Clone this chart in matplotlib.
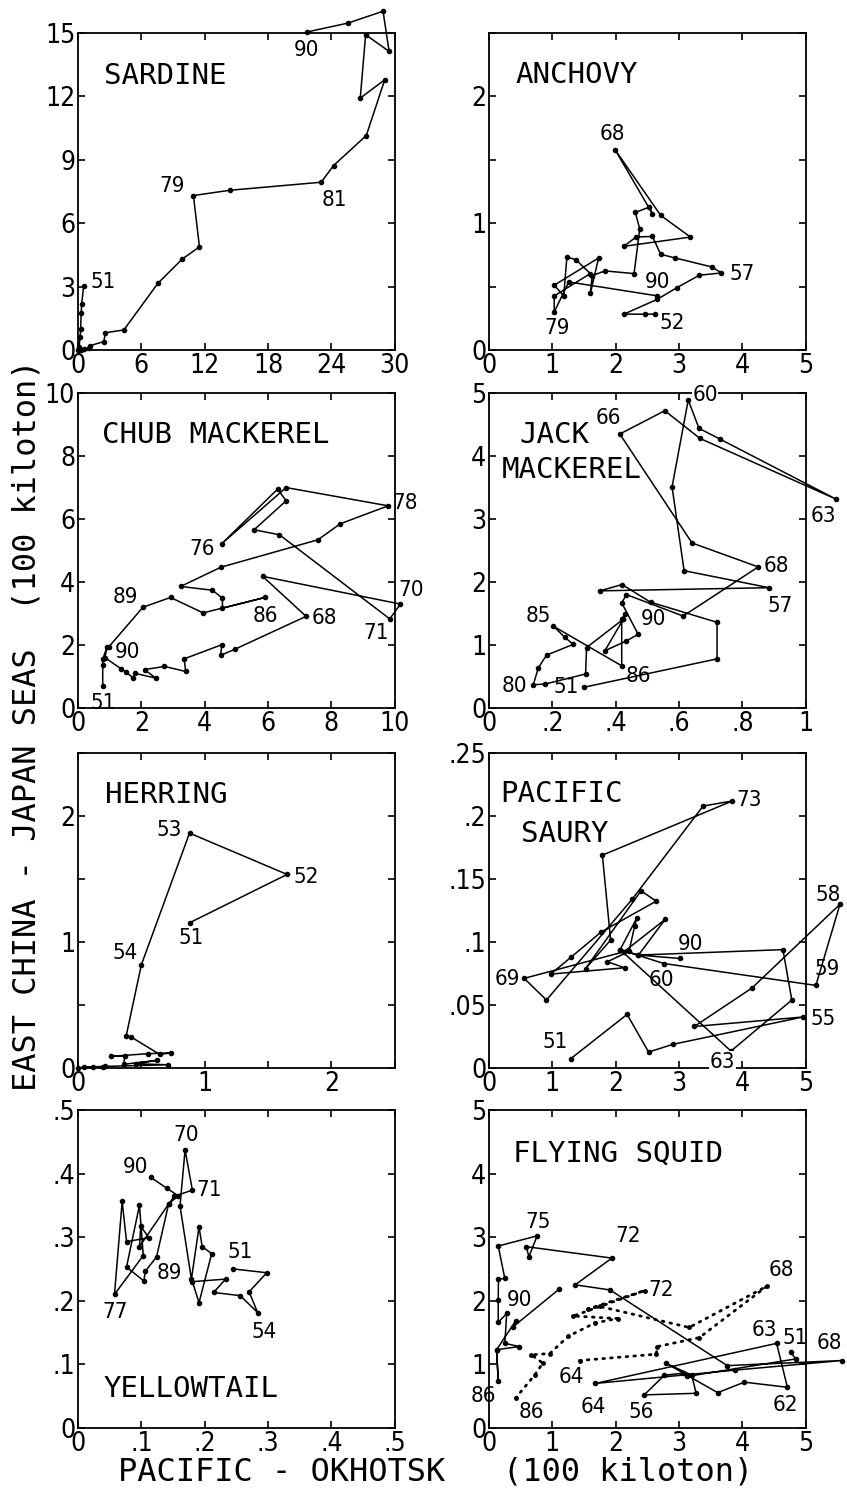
import matplotlib
matplotlib.use("Agg")
import matplotlib.pyplot as plt

plt.rcParams["font.family"] = ["DejaVu Sans"]
plt.rcParams["font.stretch"] = "condensed"
MONO = "DejaVu Sans Mono"

# ---------------- data ----------------
# SARDINE
sardine_x = [0.54, 0.35, 0.30, 0.25, 0.20, 0.10, 0.0, 0.3, 0.6, 1.0, 1.1, 2.44, 2.6, 4.34,
             7.57, 9.88, 11.5, 10.93, 14.38, 23.03, 24.2, 27.3, 29.05, 26.73, 27.24, 29.46,
             28.89, 25.56, 21.7]
sardine_y = [3.05, 2.2, 1.75, 1.0, 0.6, 0.15, 0.02, 0.02, 0.05, 0.1, 0.2, 0.4, 0.82, 0.95,
             3.16, 4.31, 4.88, 7.31, 7.56, 7.94, 8.73, 10.15, 12.79, 11.92, 14.92, 14.13,
             16.03, 15.47, 15.05]
sardine_years = [("51", 2.4, 3.2), ("79", 8.9, 7.75), ("81", 24.3, 7.1), ("90", 21.6, 14.2)]

# ANCHOVY
anchovy_x = [2.62, 2.47, 2.13, 2.66, 2.97, 3.32, 3.67, 3.52, 2.94, 2.71, 2.58, 2.32, 2.13,
             3.18, 2.71, 1.99, 2.58, 2.53, 2.31, 2.38, 2.29, 1.83, 1.63, 1.60, 1.73, 1.03,
             1.18, 1.23, 1.37, 1.60, 1.03, 1.03, 1.26, 2.66]
anchovy_y = [0.283, 0.283, 0.283, 0.401, 0.493, 0.59, 0.608, 0.655, 0.726, 0.755, 0.896,
             0.891, 0.818, 0.891, 1.062, 1.58, 1.075, 1.127, 1.085, 0.954, 0.603, 0.624,
             0.587, 0.446, 0.726, 0.511, 0.427, 0.734, 0.713, 0.603, 0.427, 0.301, 0.537,
             0.427]
anchovy_years = [("68", 1.95, 1.70), ("57", 4.0, 0.60), ("90", 2.66, 0.54),
                 ("52", 2.89, 0.21), ("79", 1.08, 0.17)]

# CHUB MACKEREL
chub_x = [0.78, 0.78, 0.78, 0.92, 0.85, 1.35, 1.5, 1.75, 1.8, 2.45, 2.1, 2.73, 3.4, 3.35,
          4.54, 4.5, 4.96, 7.2, 5.83, 10.18, 9.84, 6.36, 5.56, 6.57, 6.3, 4.54, 6.57, 9.79,
          8.28, 7.57, 4.51, 3.24, 4.24, 4.56, 4.56, 5.9, 3.95, 2.92, 2.05, 0.98]
chub_y = [0.71, 1.38, 1.55, 1.95, 1.6, 1.25, 1.15, 0.95, 1.1, 0.95, 1.22, 1.32, 1.16, 1.56,
          2.01, 1.67, 1.87, 2.91, 4.18, 3.3, 2.83, 5.5, 5.66, 6.58, 6.95, 5.22, 7.0, 6.42,
          5.85, 5.34, 4.47, 3.86, 3.74, 3.49, 3.17, 3.51, 3.02, 3.51, 3.2, 1.95]
chub_years = [("78", 10.32, 6.51), ("76", 3.93, 5.06), ("89", 1.5, 3.54), ("86", 5.93, 2.91),
              ("68", 7.78, 2.86), ("70", 10.53, 3.76), ("71", 9.42, 2.38), ("90", 1.55, 1.77),
              ("51", 0.81, 0.16)]

# JACK MACKEREL
jack_x = [0.30, 0.72, 0.72, 0.51, 0.42, 0.35, 0.884, 0.616, 0.578, 0.629, 0.663, 0.729,
          1.094, 0.666, 0.555, 0.413, 0.641, 0.85, 0.613, 0.434, 0.419, 0.471, 0.434, 0.366,
          0.424, 0.308, 0.305, 0.177, 0.14, 0.156, 0.182, 0.266, 0.24, 0.203, 0.419, 0.419,
          0.43, 0.424]
jack_y = [0.33, 0.78, 1.36, 1.68, 1.96, 1.86, 1.91, 2.18, 3.51, 4.89, 4.44, 4.27, 3.32, 4.28,
          4.72, 4.35, 2.62, 2.24, 1.46, 1.80, 1.67, 1.17, 1.065, 0.91, 1.41, 0.96, 0.54, 0.38,
          0.37, 0.64, 0.84, 1.01, 1.12, 1.30, 0.67, 1.41, 1.50, 1.41]
jack_years = [("60", 0.682, 4.97), ("66", 0.376, 4.60), ("63", 1.056, 3.05), ("68", 0.908, 2.25),
              ("57", 0.919, 1.62), ("90", 0.518, 1.41), ("85", 0.155, 1.46), ("86", 0.471, 0.51),
              ("80", 0.081, 0.35), ("51", 0.244, 0.33)]

# HERRING
herring_x = [0.88, 1.65, 0.88, 0.50, 0.38, 0.42, 0.645, 0.73, 0.55, 0.26, 0.37, 0.36, 0.62,
             0.46, 0.71, 0.21, 0.05, 0.0, 0.12, 0.2]
herring_y = [1.153, 1.537, 1.865, 0.82, 0.254, 0.246, 0.108, 0.12, 0.114, 0.093, 0.095, 0.03,
             0.061, 0.034, 0.026, 0.013, 0.008, 0.0, 0.005, 0.01]
herring_years = [("53", 0.72, 1.89), ("52", 1.80, 1.52), ("51", 0.89, 1.03), ("54", 0.37, 0.91)]

# PACIFIC SAURY
saury_x = [1.29, 2.18, 2.52, 2.90, 4.95, 3.24, 4.15, 5.54, 5.16, 2.76, 2.07, 3.82, 4.78, 4.64,
           2.36, 2.78, 2.13, 0.555, 0.907, 2.26, 3.38, 3.84, 1.79, 1.92, 1.525, 2.40, 2.64,
           1.77, 1.29, 0.975, 2.14, 1.87, 2.21, 2.30, 2.33, 2.07, 2.36, 3.01]
saury_y = [0.0074, 0.0426, 0.0127, 0.0188, 0.0405, 0.033, 0.0635, 0.130, 0.0656, 0.083, 0.094,
           0.0135, 0.054, 0.094, 0.0897, 0.118, 0.0923, 0.0712, 0.054, 0.134, 0.208, 0.212,
           0.169, 0.1016, 0.079, 0.1407, 0.1325, 0.108, 0.0878, 0.0746, 0.0796, 0.0844,
           0.0926, 0.1127, 0.1188, 0.094, 0.0897, 0.087]
saury_years = [("73", 4.10, 0.2124), ("58", 5.36, 0.137), ("59", 5.33, 0.0788), ("55", 5.28, 0.0392),
               ("90", 3.18, 0.0987), ("60", 2.73, 0.0696), ("69", 0.29, 0.0709), ("51", 1.05, 0.0206),
               ("63", 3.68, 0.0048)]

# YELLOWTAIL
yellow_x = [0.245, 0.298, 0.270, 0.2835, 0.256, 0.214, 0.233, 0.1805, 0.191, 0.211, 0.196,
            0.191, 0.179, 0.161, 0.169, 0.1805, 0.152, 0.143, 0.124, 0.106, 0.104, 0.0766,
            0.097, 0.103, 0.0576, 0.0697, 0.0766, 0.112, 0.099, 0.097, 0.143, 0.158, 0.14,
            0.1146]
yellow_y = [0.250, 0.244, 0.214, 0.1815, 0.208, 0.213, 0.234, 0.230, 0.197, 0.274, 0.285,
            0.316, 0.234, 0.349, 0.437, 0.374, 0.364, 0.352, 0.269, 0.246, 0.231, 0.253,
            0.350, 0.271, 0.210, 0.356, 0.293, 0.299, 0.317, 0.285, 0.352, 0.365, 0.377,
            0.394]
yellow_years = [("70", 0.170, 0.461), ("90", 0.091, 0.411), ("71", 0.207, 0.374), ("89", 0.144, 0.244),
                ("51", 0.256, 0.277), ("54", 0.293, 0.151), ("77", 0.059, 0.183)]

# FLYING SQUID (solid and dotted series)
squid_x = [4.76, 4.84, 3.13, 3.06, 2.77, 2.45, 3.27, 3.20, 2.79, 3.61, 4.03, 4.71, 4.54, 1.68,
           3.89, 5.57, 3.76, 1.91, 1.36, 1.94, 0.59, 0.63, 0.76, 0.146, 0.25, 0.15, 0.146,
           0.146, 0.28, 0.25, 0.48, 0.12, 0.146, 0.12, 0.42, 0.38, 1.105]
squid_y = [1.20, 1.085, 0.81, 0.86, 0.83, 0.52, 0.545, 0.83, 1.02, 0.555, 0.72, 0.64, 1.33,
           0.70, 0.91, 1.06, 0.98, 2.17, 2.25, 2.67, 2.85, 2.69, 3.02, 2.86, 2.35, 2.34, 2.01,
           1.66, 1.80, 1.33, 1.28, 1.23, 0.74, 1.23, 1.68, 1.59, 2.18]
squid2_x = [1.43, 2.64, 2.66, 3.32, 4.39, 3.16, 1.75, 1.56, 2.46, 1.33, 2.03, 1.67, 1.25, 0.96,
            0.67, 0.85, 0.72, 0.42]
squid2_y = [1.06, 1.16, 1.28, 1.42, 2.23, 1.58, 1.91, 1.87, 2.16, 1.76, 1.72, 1.65, 1.44, 1.17,
            1.15, 1.02, 0.83, 0.47]
squid_years = [("75", 0.77, 3.24), ("72", 2.19, 3.02), ("72", 2.72, 2.17), ("68", 4.61, 2.48),
               ("90", 0.48, 2.01), ("63", 4.34, 1.54), ("51", 4.84, 1.41), ("68", 5.37, 1.33),
               ("64", 1.30, 0.80), ("64", 1.64, 0.33), ("56", 2.40, 0.25), ("62", 4.68, 0.36),
               ("86", -0.09, 0.51), ("86", 0.67, 0.25)]


def fmt(v):
    s = f"{v:g}"
    return s[1:] if s.startswith("0.") else s


def setup(ax, xmax, xstep, ymax, ystep, xlab_every=1, ylab_every=1):
    n = int(round(xmax / xstep))
    xt = [i * xstep for i in range(n + 1)]
    m = int(round(ymax / ystep))
    yt = [i * ystep for i in range(m + 1)]
    ax.set_xlim(0, xmax)
    ax.set_ylim(0, ymax)
    ax.set_xticks(xt)
    ax.set_yticks(yt)
    ax.set_xticklabels([fmt(round(v, 3)) if i % xlab_every == 0 else "" for i, v in enumerate(xt)])
    ax.set_yticklabels([fmt(round(v, 3)) if i % ylab_every == 0 else "" for i, v in enumerate(yt)])
    ax.tick_params(direction="in", top=True, right=True, length=5, width=1.2,
                   labelsize=19, pad=2)
    for sp in ax.spines.values():
        sp.set_linewidth(1.3)


def path(ax, xs, ys, dotted=False):
    if dotted:
        ax.plot(xs, ys, color="black", lw=2.0, ls=(0, (0.6, 2.2)), marker="o", ms=2.5,
                clip_on=False, dash_capstyle="round")
    else:
        ax.plot(xs, ys, color="black", lw=1.1, marker="o", ms=3, clip_on=False)


def years(ax, labels, boxed=()):
    for t, x, y in labels:
        kw = {}
        if (t, x) in boxed:
            kw["bbox"] = dict(facecolor="white", edgecolor="none", pad=0.5)
        ax.text(x, y, t, fontsize=16, ha="center", va="center", clip_on=False, **kw)


def title(ax, lines):
    for txt, x, y in lines:
        ax.text(x, y, txt, transform=ax.transAxes, family=MONO, fontsize=21,
                ha="left", va="center")


fig = plt.figure(figsize=(8.47, 14.94), dpi=100)
L, R = 0.0921, 0.5773
W = 0.374
rows = [(0.7657, 0.2122), (0.5261, 0.2108), (0.2851, 0.2108), (0.0442, 0.2129)]

ax = fig.add_axes([L, rows[0][0], W, rows[0][1]])
setup(ax, 30, 6, 15, 3)
path(ax, sardine_x, sardine_y)
years(ax, sardine_years)
title(ax, [("SARDINE", 0.081, 0.863)])

ax = fig.add_axes([R, rows[0][0], W, rows[0][1]])
setup(ax, 5, 1, 2.5, 0.5, ylab_every=2)
path(ax, anchovy_x, anchovy_y)
years(ax, anchovy_years)
title(ax, [("ANCHOVY", 0.084, 0.868)])

ax = fig.add_axes([L, rows[1][0], W, rows[1][1]])
setup(ax, 10, 2, 10, 2)
path(ax, chub_x, chub_y)
years(ax, chub_years)
title(ax, [("CHUB MACKEREL", 0.076, 0.868)])

ax = fig.add_axes([R, rows[1][0], W, rows[1][1]])
setup(ax, 1, 0.2, 5, 1)
path(ax, jack_x, jack_y)
years(ax, jack_years, boxed=[("60", 0.682)])
title(ax, [("JACK", 0.097, 0.868), ("MACKEREL", 0.039, 0.757)])

ax = fig.add_axes([L, rows[2][0], W, rows[2][1]])
setup(ax, 2.5, 0.5, 2.5, 0.5, xlab_every=2, ylab_every=2)
path(ax, herring_x, herring_y)
years(ax, herring_years)
title(ax, [("HERRING", 0.084, 0.866)])

ax = fig.add_axes([R, rows[2][0], W, rows[2][1]])
setup(ax, 5, 1, 0.25, 0.05)
path(ax, saury_x, saury_y)
years(ax, saury_years, boxed=[("63", 3.68)])
title(ax, [("PACIFIC", 0.037, 0.871), ("SAURY", 0.10, 0.744)])

ax = fig.add_axes([L, rows[3][0], W, rows[3][1]])
setup(ax, 0.5, 0.1, 0.5, 0.1)
path(ax, yellow_x, yellow_y)
years(ax, yellow_years)
title(ax, [("YELLOWTAIL", 0.081, 0.124)])

ax = fig.add_axes([R, rows[3][0], W, rows[3][1]])
setup(ax, 5, 1, 5, 1)
path(ax, squid_x, squid_y)
path(ax, squid2_x, squid2_y, dotted=True)
years(ax, squid_years)
title(ax, [("FLYING SQUID", 0.076, 0.864)])

fig.text(436 / 847, 1 - 1472 / 1494, "PACIFIC - OKHOTSK   (100 kiloton)",
         family=MONO, fontsize=23, ha="center", va="center")
fig.text(27 / 847, 1 - 725 / 1494, "EAST CHINA - JAPAN SEAS  (100 kiloton)",
         family=MONO, fontsize=23, ha="center", va="center", rotation=90)

fig.savefig("out.png", dpi=100, facecolor="white")
